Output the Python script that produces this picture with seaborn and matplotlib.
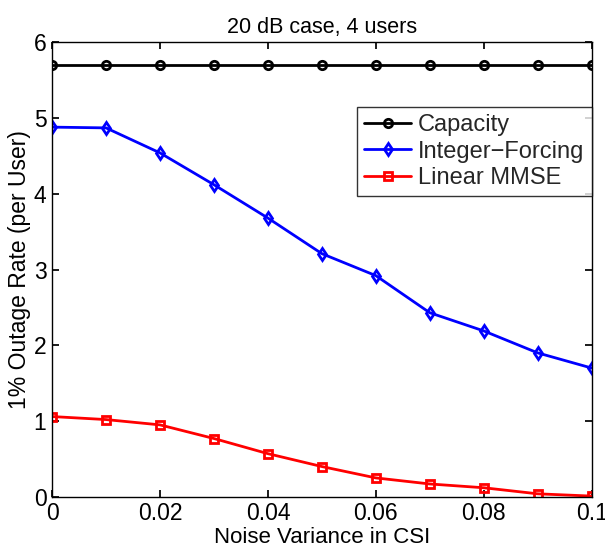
import matplotlib
matplotlib.use("Agg")
import matplotlib.pyplot as plt
import seaborn as sns
import numpy as np
import pandas as pd

noise_var = [0.0, 0.01, 0.02, 0.03, 0.04, 0.05, 0.06, 0.07, 0.08, 0.09, 0.1]
capacity = [5.70] * 11
integer_forcing = [4.88, 4.87, 4.54, 4.12, 3.68, 3.21, 2.92, 2.43, 2.19, 1.90, 1.70]
linear_mmse = [1.06, 1.02, 0.95, 0.77, 0.57, 0.40, 0.25, 0.17, 0.12, 0.04, 0.01]
x_ticks = [0, 0.02, 0.04, 0.06, 0.08, 0.1]
x_tick_labels = ["0", "0.02", "0.04", "0.06", "0.08", "0.1"]
y_ticks = [0, 1, 2, 3, 4, 5, 6]

sns.set_theme(style="white")
plt.rcParams['font.family'] = ['Liberation Sans', 'DejaVu Sans']

fig = plt.figure(figsize=(6.05, 5.49), dpi=100)
ax = fig.add_axes([0.086, 0.095, 0.892, 0.828])

series = [
    ("Capacity", capacity, "black", "o"),
    ("Integer\u2212Forcing", integer_forcing, "#0000ff", "d"),
    ("Linear MMSE", linear_mmse, "#ff0000", "s"),
]
for name, vals, col, mk in series:
    sns.lineplot(x=noise_var, y=vals, ax=ax, color=col, marker=mk, label=name,
                 linewidth=2.0, markersize=6, markerfacecolor="none",
                 markeredgecolor=col, markeredgewidth=2.0)

ax.set_xlim(0, 0.1)
ax.set_ylim(0, 6)
ax.set_xticks(x_ticks)
ax.set_xticklabels(x_tick_labels)
ax.set_yticks(y_ticks)
ax.tick_params(direction="in", length=5, labelsize=16.5, top=True, right=True,
               bottom=True, left=True, colors="black", pad=4)
for lab in ax.get_xticklabels() + ax.get_yticklabels():
    lab.set_color("black")
for sp in ax.spines.values():
    sp.set_color("black")
    sp.set_linewidth(1.0)

ax.set_xlabel("Noise Variance in CSI", fontsize=16, color="black", labelpad=1)
ax.set_ylabel("1% Outage Rate (per User)", fontsize=16.5, color="black", labelpad=2)
ax.set_title("20 dB case, 4 users", fontsize=15.5, color="black", pad=7)

leg = ax.legend(loc="upper right", bbox_to_anchor=(1.0, 0.858), fontsize=17,
                frameon=True, fancybox=False, edgecolor="black",
                handlelength=2.0, handletextpad=0.3, borderpad=0.3,
                labelspacing=0.2, borderaxespad=0.0)
leg.get_frame().set_linewidth(1.0)

fig.savefig("out.png", dpi=100)
